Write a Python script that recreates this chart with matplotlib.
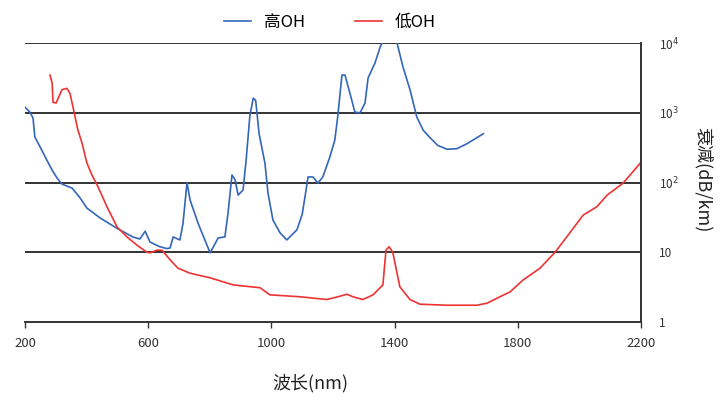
import matplotlib
matplotlib.use("Agg")
import matplotlib.pyplot as plt
from matplotlib.ticker import FixedLocator, NullLocator

plt.rcParams['font.family'] = ['Noto Sans CJK SC', 'DejaVu Sans']

# High OH fiber (blue) - wavelength (nm) and attenuation (dB/km)
high_wl = [200, 216, 226, 232, 249, 271, 288, 304, 320, 353, 379, 401, 444, 499, 551, 573,
           590, 606, 638, 660, 671, 681, 703, 713, 726, 736, 762, 801, 827, 849, 859, 872,
           882, 892, 908, 918, 930, 941, 949, 960, 979, 989, 1005, 1028, 1050, 1083, 1100,
           1109, 1119, 1135, 1151, 1167, 1190, 1206, 1216, 1229, 1239, 1255, 1271, 1288,
           1304, 1314, 1336, 1353, 1380, 1408, 1427, 1450, 1472, 1493, 1515, 1540, 1570,
           1602, 1635, 1660, 1688]
high_att = [1200, 1020, 840, 450, 324, 209, 151, 116, 95, 83, 60, 43, 31, 22, 16.5, 15.5,
            20, 14, 12, 11.3, 11.5, 16.6, 15, 26, 100, 56, 26, 9.8, 16, 16.6, 36, 128,
            110, 66, 78, 210, 900, 1620, 1500, 500, 190, 70, 29, 19, 15, 21, 35,
            62, 120, 120, 98, 120, 234, 407, 930, 3470, 3470, 1900, 1020, 1000,
            1380, 3160, 5130, 8700, 16000, 10000, 4570, 2140, 870, 560, 440, 340, 300,
            305, 360, 420, 500]

# Low OH fiber (red)
low_wl = [281, 288, 291, 301, 320, 336, 346, 356, 372, 385, 401, 417, 437, 466, 499, 531,
          564, 596, 606, 628, 645, 671, 697, 736, 801, 876, 963, 995, 1093, 1180, 1216,
          1245, 1265, 1297, 1330, 1362, 1372, 1382, 1394, 1417, 1450, 1482, 1570, 1667,
          1700, 1742, 1775, 1817, 1872, 1921, 1969, 2012, 2057, 2090, 2142, 2200]
low_att = [3470, 2690, 1410, 1380, 2140, 2240, 1900, 1200, 560, 370, 190, 129, 87, 45, 23, 16.6,
           12.6, 10, 9.8, 10.7, 10.7, 7.8, 5.9, 5.0, 4.3, 3.4, 3.1, 2.45, 2.3, 2.1, 2.3,
           2.5, 2.3, 2.1, 2.45, 3.4, 10.7, 12, 10, 3.2, 2.1, 1.8, 1.74, 1.74,
           1.86, 2.3, 2.7, 4.0, 5.9, 10, 19, 34, 45, 66, 98, 195]

x_ticks = [200, 600, 1000, 1400, 1800, 2200]
y_ticks = [1, 10, 100, 1000, 10000]
y_ticklabels = ['1', '10', '10$^{2}$', '10$^{3}$', '10$^{4}$']

fig = plt.figure(figsize=(7.24, 3.96), dpi=100)
ax = fig.add_axes([25/724, 1-322/396, (641-25)/724, (322-43)/396])

l1, = ax.plot(high_wl, high_att, color='#3366bb', lw=1.2, label='高OH')
l2, = ax.plot(low_wl, low_att, color='#ee3333', lw=1.2, label='低OH')

ax.set_yscale('log')
ax.set_xlim(200, 2200)
ax.set_ylim(1, 10000)

for v in y_ticks[1:]:
    ax.axhline(v, color='#333333', lw=1.4, zorder=0)

ax.spines['left'].set_visible(False)
ax.spines['top'].set_visible(False)
ax.spines['bottom'].set_color('#333333')
ax.spines['bottom'].set_linewidth(1.4)
ax.spines['right'].set_color('#333333')
ax.spines['right'].set_linewidth(1.4)

ax.xaxis.set_major_locator(FixedLocator(x_ticks))
ax.set_xticklabels([str(t) for t in x_ticks], fontsize=9.5, color='#333333')
ax.tick_params(axis='x', length=4, width=1, color='#333333', pad=7)

ax.yaxis.tick_right()
ax.yaxis.set_major_locator(FixedLocator(y_ticks))
ax.yaxis.set_minor_locator(NullLocator())
ax.set_yticklabels(y_ticklabels, fontsize=8.5, color='#333333')
ax.tick_params(axis='y', length=0, pad=13)

fig.text(310/724, 1-383/396, '波长(nm)', fontsize=13, ha='center', va='center', color='#222222')
fig.text(703/724, 1-180/396, '衰减(dB/km)', fontsize=13, ha='center', va='center',
         rotation=270, color='#222222')

fig.legend(handles=[l1, l2], loc='center', bbox_to_anchor=(330/724, 1-22/396), ncol=2,
           frameon=False, fontsize=12, handlelength=1.6, columnspacing=3.0, handletextpad=0.8)

fig.savefig('out.png', dpi=100)
